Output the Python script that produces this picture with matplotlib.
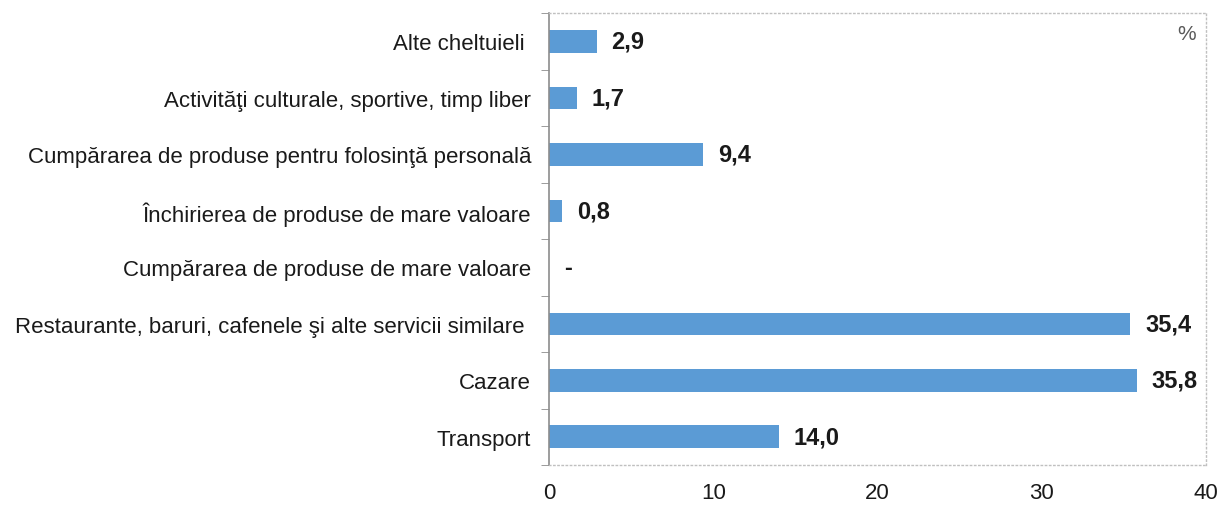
import numpy as np
import matplotlib.pyplot as plt

categories = [
    "Alte cheltuieli ",
    "Activităţi culturale, sportive, timp liber",
    "Cumpărarea de produse pentru folosinţă personală",
    "Închirierea de produse de mare valoare",
    "Cumpărarea de produse de mare valoare",
    "Restaurante, baruri, cafenele şi alte servicii similare ",
    "Cazare",
    "Transport",
]
values = [2.9, 1.7, 9.4, 0.8, 0.0, 35.4, 35.8, 14.0]
labels = ["2,9", "1,7", "9,4", "0,8", "-", "35,4", "35,8", "14,0"]
xticks = [0, 10, 20, 30, 40]

plt.rcParams['font.family'] = ['Liberation Sans', 'DejaVu Sans']

fig = plt.figure(figsize=(12.23, 5.06), dpi=100)
ax = fig.add_axes([0.449, 0.079, 0.537, 0.893])

y = np.arange(len(categories))[::-1]
ax.barh(y, values, height=0.4, color="#5B9BD5")

for yi, v, lab in zip(y, values, labels):
    ax.text(v + 0.9, yi, lab, va="center", ha="left", fontsize=17,
            fontweight="bold", color="#1a1a1a")

ax.set_xlim(0, 40)
ax.set_ylim(-0.5, len(categories) - 0.5)
ax.set_xticks(xticks)
ax.set_xticklabels([str(t) for t in xticks])
ax.set_yticks(y)
ax.set_yticklabels(categories)
ax.set_yticks(np.arange(-0.5, len(categories), 1), minor=True)

ax.tick_params(axis="y", which="major", length=0, pad=13, labelsize=16,
               labelcolor="#1a1a1a")
ax.tick_params(axis="y", which="minor", length=6, color="#8c8c8c", direction="out")
ax.tick_params(axis="x", length=0, pad=12, labelsize=16, labelcolor="#1a1a1a")

for side in ["top", "right", "bottom"]:
    ax.spines[side].set_linestyle((0, (1, 2)))
    ax.spines[side].set_color("#c0c0c0")
    ax.spines[side].set_linewidth(1)
ax.spines["left"].set_color("#8c8c8c")
ax.spines["left"].set_linewidth(1.2)

ax.text(0.985, 0.975, "%", transform=ax.transAxes, ha="right", va="top",
        fontsize=15, color="#595959")

fig.savefig("out.png", dpi=100)
